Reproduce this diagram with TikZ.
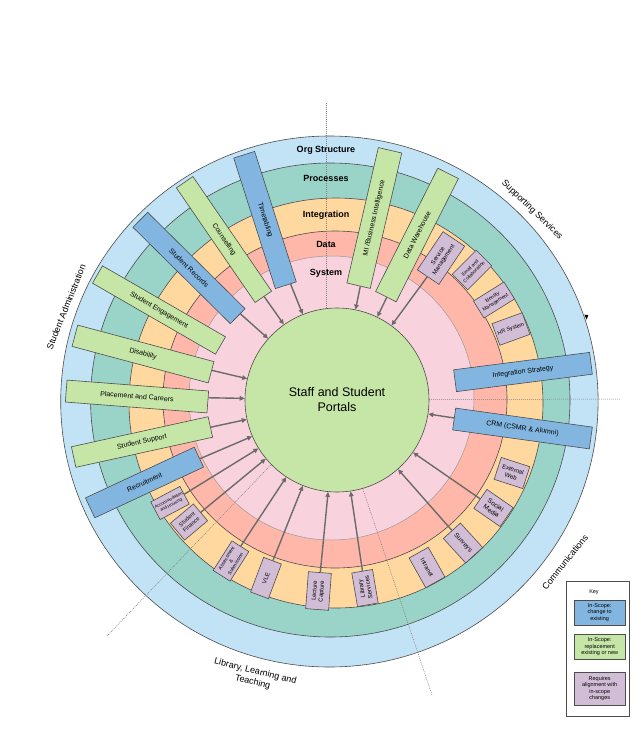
\documentclass[tikz,border=0pt]{standalone}
\usepackage{fontspec}
\setmainfont{Liberation Sans}
\usetikzlibrary{arrows.meta}
\definecolor{ringBlue}{HTML}{C2E2F5}
\definecolor{ringTeal}{HTML}{9AD3C8}
\definecolor{ringOrange}{HTML}{FFD8A0}
\definecolor{ringSalmon}{HTML}{FFB7AA}
\definecolor{ringPink}{HTML}{F8D2DD}
\definecolor{boxGreen}{HTML}{C6E6A7}
\definecolor{boxBlue}{HTML}{82B6E1}
\definecolor{boxPurple}{HTML}{D1BDD6}
\definecolor{lineDark}{HTML}{4D4D4D}
\definecolor{arrGray}{HTML}{6B6B6B}
\begin{document}
\begin{tikzpicture}[x=1pt,y=-1pt,
  ringline/.style={draw=lineDark,line width=0.6pt},
  dotline/.style={draw=gray,line width=0.5pt,dash pattern=on 1pt off 1pt},
  ringlabel/.style={font=\fontsize{9}{10}\selectfont\bfseries},
  sector/.style={font=\fontsize{9}{11}\selectfont,align=center},
  longbox/.style={draw=lineDark,line width=0.6pt,inner sep=1pt,align=center,font=\fontsize{7}{8}\selectfont},
  boxG/.style={longbox,fill=boxGreen},
  boxB/.style={longbox,fill=boxBlue},
  boxP/.style={draw=lineDark,line width=0.6pt,fill=boxPurple,inner sep=0.5pt,align=center},
  arr/.style={draw=arrGray,line width=1.4pt,-{Triangle[length=5pt,width=4.5pt]}},
  keybox/.style={draw=lineDark,line width=0.5pt,inner sep=0.5pt,align=center,font=\fontsize{5.5}{6.5}\selectfont,minimum width=51pt}
]
\useasboundingbox (0,0) rectangle (635,755);
\fill[white] (0,0) rectangle (635,755);

% rings
\fill[ringBlue,ringline] (329.4,401.5) ellipse [x radius=268.7pt, y radius=265.5pt];
\fill[ringTeal,ringline] (330.3,400) ellipse [x radius=239.7pt, y radius=237pt];
\fill[ringOrange,ringline] (336,403) ellipse [x radius=207pt, y radius=205pt];
\fill[ringSalmon,ringline] (335,399.5) ellipse [x radius=172pt, y radius=168.5pt];
\fill[ringPink,draw=gray!80,line width=0.5pt] (331.5,398) ellipse [x radius=142.5pt, y radius=142pt];

% small marker on outer ring
\fill[black] (584.3,314.5) -- (588.3,315.2) -- (586.6,319.5) -- cycle;

% dotted quadrant lines
\coordinate (ctr) at (333,400);
\coordinate (dTop) at (326,103);
\coordinate (dTopIn) at (326,400);
\coordinate (dRight) at (620,399);
\coordinate (dLL) at (107,636);
\coordinate (dLR) at (432,695);
\draw[dotline] (dTop) -- (dTopIn);
\draw[dotline] (ctr) -- (dRight);
\draw[dotline] (ctr) -- (dLL);
\draw[dotline] (ctr) -- (dLR);

% ring labels
\node[ringlabel] (lOrg) at (326,150) {Org Structure};
\node[ringlabel] (lProc) at (326,178) {Processes};
\node[ringlabel] (lInt) at (326,215.5) {Integration};
\node[ringlabel] (lData) at (326,244) {Data};
\node[ringlabel] (lSys) at (326,273) {System};

% central circle
\node[circle,draw=lineDark,line width=0.6pt,fill=boxGreen,minimum size=184pt,inner sep=0pt,align=center,font=\fontsize{12.5}{15}\selectfont] (portal) at (337,400) {Staff and Student\\Portals};

% sector labels
\node[sector,rotate=-44] (secSup) at (532,210) {Supporting Services};
\node[sector,rotate=51] (secCom) at (565,562) {Communications};
\node[sector,rotate=68] (secAdm) at (66,307) {Student Administration};
\node[sector,rotate=-14] (secLib) at (254,677) {Library, Learning and\\Teaching};

% purple boxes
\node[boxP,rotate=56,minimum width=46pt,minimum height=26pt,font=\fontsize{6}{6.8}\selectfont] (sm) at (441,258) {Service\\Management};
\node[boxP,rotate=45,minimum width=34pt,minimum height=22pt,font=\fontsize{4.8}{5.6}\selectfont] (ec) at (472,270) {Email and\\Collaboration};
\node[boxP,rotate=32,minimum width=36pt,minimum height=20pt,font=\fontsize{5}{6}\selectfont] (im) at (494,300) {Identity\\Management};
\node[boxP,rotate=20,minimum width=32pt,minimum height=23pt,font=\fontsize{5.5}{6.5}\selectfont] (hr) at (511,329) {HR System};
\node[boxP,rotate=28,minimum width=33pt,minimum height=20pt,font=\fontsize{4.3}{5.2}\selectfont] (ah) at (170,503) {Accommodation\\and Housing};
\node[boxP,rotate=40,minimum width=30pt,minimum height=22pt,font=\fontsize{5.5}{6.5}\selectfont] (sf) at (189,522) {Student\\Finance};
\node[boxP,rotate=57.6,minimum width=35pt,minimum height=20pt,font=\fontsize{4.8}{5.4}\selectfont] (asm) at (231,561) {Assessment\\\&\\Submission};
\node[boxP,rotate=69.4,minimum width=37pt,minimum height=19pt,font=\fontsize{6}{7}\selectfont] (vle) at (266,578) {VLE};
\node[boxP,rotate=85.7,minimum width=37pt,minimum height=23pt,font=\fontsize{6}{7}\selectfont] (lc) at (318.5,591) {Lecture\\Capture};
\node[boxP,rotate=99.7,minimum width=34pt,minimum height=21pt,font=\fontsize{6}{7}\selectfont] (ls) at (365,588) {Library\\Services};
\node[boxP,rotate=-60.7,minimum width=34pt,minimum height=22pt,font=\fontsize{6}{7}\selectfont] (intr) at (427,567.5) {Intranet};
\node[boxP,rotate=-47.7,minimum width=33pt,minimum height=23pt,font=\fontsize{6.5}{7.5}\selectfont] (sv) at (463,543) {Surveys};
\node[boxP,rotate=-34.7,minimum width=32pt,minimum height=23pt,font=\fontsize{6.5}{7.5}\selectfont] (soc) at (493.5,508) {Social\\Media};
\node[boxP,rotate=-18,minimum width=30pt,minimum height=23pt,font=\fontsize{6}{7}\selectfont] (ew) at (512,473) {External\\Web};

% long boxes
\node[boxB,rotate=-72.3,minimum width=137pt,minimum height=22pt] (tt) at (265,220) {Timetabling};
\node[boxG,rotate=-55.5,minimum width=139pt,minimum height=20pt] (co) at (224,239.5) {Counselling};
\node[boxB,rotate=-44.7,minimum width=137pt,minimum height=21pt] (sr) at (189,268) {Student Records};
\node[boxG,rotate=-30,minimum width=142pt,minimum height=20pt] (se) at (159,310) {Student Engagement};
\node[boxG,rotate=-15,minimum width=141pt,minimum height=22pt] (di) at (143,354) {Disability};
\node[boxG,rotate=-4.4,minimum width=142pt,minimum height=22pt] (pc) at (137,396.5) {Placement and Careers};
\node[boxG,rotate=12.4,minimum width=140pt,minimum height=21pt] (ss) at (142,442) {Student Support};
\node[boxB,rotate=25,minimum width=120pt,minimum height=22pt] (re) at (144.5,482.5) {Recruitment};
\node[boxG,rotate=76.9,minimum width=139pt,minimum height=24pt] (mi) at (374.3,218) {MI /Business Intelligence};
\node[boxG,rotate=63.2,minimum width=138pt,minimum height=23pt] (dw) at (417,235) {Data Warehouse};
\node[boxB,rotate=7.3,minimum width=137pt,minimum height=22pt] (is) at (523,372) {Integration Strategy};
\node[boxB,rotate=-7.9,minimum width=138pt,minimum height=22pt] (crm) at (522.5,428.5) {CRM (CSMR \& Alumni)};

% arrows
\foreach \b in {tt,co,sr,di,pc,ss,re,mi,dw,crm,sm,ah,sf,asm,vle,lc,ls,sv,soc}
  \draw[arr] (\b) -- (portal);

% key
\node[draw=lineDark,line width=0.5pt,fill=white,minimum width=63pt,minimum height=135pt,inner sep=0pt] (key) at (597.5,649.2) {};
\node[font=\fontsize{5.5}{6.5}\selectfont] (keyT) at (594,592) {Key};
\node[keybox,fill=boxBlue,minimum height=25pt] (k1) at (599.7,612.5) {In-Scope:\\change to\\existing};
\node[keybox,fill=boxGreen,minimum height=25pt] (k2) at (599.7,646.8) {In-Scope:\\replacement\\existing or new};
\node[keybox,fill=boxPurple,minimum height=33pt] (k3) at (599.7,688.7) {Requires\\alignment with\\in-scope\\changes};
\end{tikzpicture}
\end{document}
